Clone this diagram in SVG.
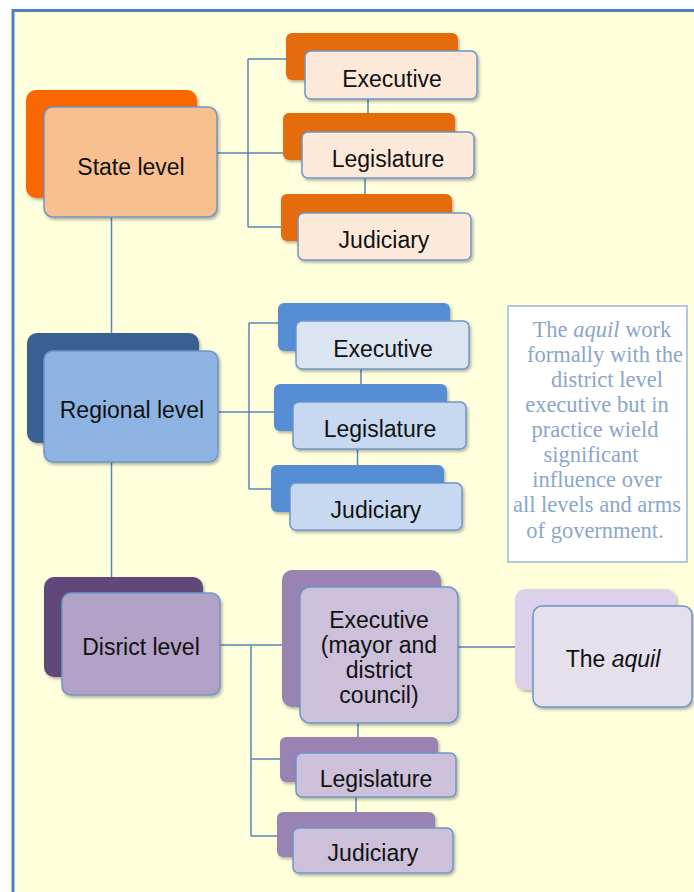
<svg xmlns="http://www.w3.org/2000/svg" width="694" height="892" viewBox="0 0 694 892">
<defs>
<filter id="sh" x="-10%" y="-10%" width="130%" height="130%">
<feDropShadow dx="1.5" dy="2" stdDeviation="1.5" flood-color="#000" flood-opacity="0.3"/>
</filter>
<style>
.f{stroke:#6f95c8;stroke-width:1.5}
.b{filter:url(#sh)}
.t{font-family:"Liberation Sans",Arial,sans-serif;font-size:23px;fill:#111111;text-anchor:middle}
.n{font-family:"Liberation Serif","Times New Roman",serif;font-size:22.5px;fill:#8aa6cb;text-anchor:middle}
.c{fill:none;stroke:#5a86bb;stroke-width:1.5}
</style>
</defs>
<rect x="0" y="0" width="694" height="892" fill="#ffffff"/>
<rect x="13" y="10.5" width="700" height="900" fill="#ffffdc" stroke="#4f81bd" stroke-width="3"/>

<g id="connectors" class="c">
<path d="M217 153H283M248 59V227M248 59H286M248 227H281M368 99V132M365 178V213"/>
<path d="M111.5 217V333M111.5 462V577"/>
<path d="M218 412H274M249 323V489M249 323H278M249 489H271M361 369V402M357.5 449V483"/>
<path d="M220 645H282M251 645V836M251 759H280M251 836H277M358 723V753M356 797V828M458 647H515"/>
</g>

<g id="state">
<rect class="b" x="26" y="90" width="171" height="108" rx="10" fill="#fa6600"/>
<rect class="f b" x="44" y="107" width="173" height="110" rx="9" fill="#f8bf90"/>
<text class="t" x="131" y="175">State level</text>
</g>
<g id="state-executive">
<rect class="b" x="286" y="33" width="172" height="47" rx="6" fill="#e46c0a"/>
<rect class="f b" x="305" y="51" width="172" height="48" rx="6" fill="#fde9da"/>
<text class="t" x="392" y="87">Executive</text>
</g>
<g id="state-legislature">
<rect class="b" x="283" y="113" width="172" height="47" rx="6" fill="#e46c0a"/>
<rect class="f b" x="302" y="132" width="172" height="46" rx="6" fill="#fde9da"/>
<text class="t" x="388" y="167">Legislature</text>
</g>
<g id="state-judiciary">
<rect class="b" x="281" y="194" width="171" height="47" rx="6" fill="#e46c0a"/>
<rect class="f b" x="298" y="213" width="173" height="47" rx="6" fill="#fde9da"/>
<text class="t" x="384" y="248">Judiciary</text>
</g>

<g id="regional">
<rect class="b" x="27" y="333" width="172" height="110" rx="10" fill="#376092"/>
<rect class="f b" x="44" y="351" width="174" height="111" rx="9" fill="#8db3e2"/>
<text class="t" x="132" y="418">Regional level</text>
</g>
<g id="regional-executive">
<rect class="b" x="278" y="303" width="172" height="48" rx="6" fill="#558ed5"/>
<rect class="f b" x="296" y="321" width="173" height="48" rx="6" fill="#dbe5f1"/>
<text class="t" x="383" y="357">Executive</text>
</g>
<g id="regional-legislature">
<rect class="b" x="274" y="384" width="173" height="47" rx="6" fill="#558ed5"/>
<rect class="f b" x="293" y="402" width="173" height="47" rx="6" fill="#c6d9f1"/>
<text class="t" x="380" y="437">Legislature</text>
</g>
<g id="regional-judiciary">
<rect class="b" x="271" y="465" width="173" height="47" rx="6" fill="#558ed5"/>
<rect class="f b" x="290" y="483" width="172" height="47" rx="6" fill="#c6d9f1"/>
<text class="t" x="376" y="518">Judiciary</text>
</g>

<g id="note">
<rect x="508" y="306" width="179" height="256" fill="#ffffff" stroke="#9ab6da" stroke-width="1.5"/>
<text class="n"><tspan x="602" y="337">The <tspan font-style="italic">aquil</tspan> work</tspan><tspan x="605" y="362">formally with the</tspan><tspan x="607" y="387">district level</tspan><tspan x="597" y="412">executive but in</tspan><tspan x="595" y="437">practice wield</tspan><tspan x="591" y="462">significant</tspan><tspan x="597" y="487">influence over</tspan><tspan x="597" y="512">all levels and arms</tspan><tspan x="595" y="538">of government.</tspan></text>
</g>

<g id="district">
<rect class="b" x="44" y="577" width="159" height="100" rx="10" fill="#5f497a"/>
<rect class="f b" x="62" y="593" width="158" height="102" rx="9" fill="#b2a2c7"/>
<text class="t" x="141" y="655">Disrict level</text>
</g>
<g id="district-executive">
<rect class="b" x="282" y="570" width="159" height="137" rx="10" fill="#9883b3"/>
<rect class="f b" x="300" y="587" width="158" height="136" rx="10" fill="#ccc0da"/>
<text class="t"><tspan x="379" y="628">Executive</tspan><tspan x="379" y="653">(mayor and</tspan><tspan x="379" y="678">district</tspan><tspan x="379" y="703">council)</tspan></text>
</g>
<g id="aquil">
<rect class="b" x="515" y="589" width="161" height="101" rx="10" fill="#dcd0ea"/>
<rect class="f b" x="533" y="606" width="159" height="101" rx="9" fill="#e5e0ec"/>
<text class="t" x="613" y="667">The <tspan font-style="italic">aquil</tspan></text>
</g>
<g id="district-legislature">
<rect class="b" x="280" y="737" width="158" height="45" rx="6" fill="#9883b3"/>
<rect class="f b" x="296" y="753" width="160" height="44" rx="6" fill="#ccc0da"/>
<text class="t" x="376" y="787">Legislature</text>
</g>
<g id="district-judiciary">
<rect class="b" x="277" y="812" width="158" height="45" rx="6" fill="#9883b3"/>
<rect class="f b" x="293" y="828" width="160" height="45" rx="6" fill="#ccc0da"/>
<text class="t" x="373" y="861">Judiciary</text>
</g>
</svg>
